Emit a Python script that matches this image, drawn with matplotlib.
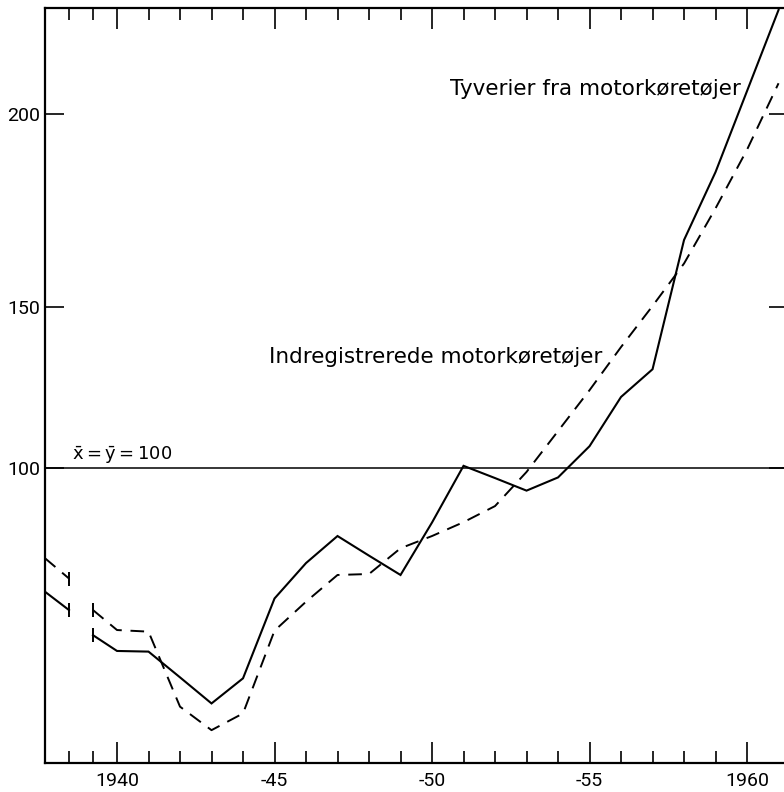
import matplotlib
matplotlib.use("Agg")
import matplotlib.pyplot as plt
import numpy as np

plt.rcParams['font.family'] = ['Roboto', 'DejaVu Sans']
plt.rcParams['mathtext.fontset'] = 'dejavusans'

# ---- data (index, mean = 100) ----
years = list(range(1937, 1962))
theft = [61.6, 55.9, 48.1, 43.2, 43.0, 35.0, 26.9, 34.7, 59.5, 70.5,
         78.9, 72.8, 66.8, 83.1, 100.7, 96.9, 93.0, 97.1, 106.8, 122.1,
         130.7, 167.4, 185.0, 206.0, 227.0]
registered = [72.0, 65.7, 55.9, 49.7, 49.2, 25.9, 18.6, 23.8, 49.5, 58.5,
              66.8, 67.1, 75.1, 78.9, 83.2, 88.2, 98.8, 111.5, 124.2, 137.6,
              150.3, 161.3, 175.6, 190.8, 208.0]
gap_after = 1938          # series interrupted between 1938 and 1939
major_years = [1940, 1945, 1950, 1955, 1960]
major_labels = ['1940', '-45', '-50', '-55', '1960']
y_ticks = [100, 150, 200]
y_labels = ['100', '150', '200']
label_theft = 'Tyverier fra motorkøretøjer'
label_reg = 'Indregistrerede motorkøretøjer'
label_mean = r'$\mathrm{\bar{x} = \bar{y} = 100}$'

# ---- scales (pre-1940 compressed, y piecewise as printed) ----
def xf(x):
    x = np.asarray(x, float)
    return np.where(x < 1940, (x - 1940) * 24 / 31.5, x - 1940)

def xi(p):
    p = np.asarray(p, float)
    return np.where(p < 0, p * 31.5 / 24 + 1940, p + 1940)

def yf(v):
    v = np.asarray(v, float)
    return np.where(v <= 150, (v - 100) * 161 / 50, 161 + (v - 150) * 193 / 50)

def yi(p):
    p = np.asarray(p, float)
    return np.where(p <= 161, 100 + p * 50 / 161, 150 + (p - 161) * 50 / 193)

fig = plt.figure(figsize=(7.84, 7.92), dpi=100)
ax = fig.add_axes([45 / 784, 29 / 792, 743 / 784, 755 / 792])
ax.set_xscale('function', functions=(xf, xi))
ax.set_yscale('function', functions=(yf, yi))

yrs = np.array(years)
th = np.array(theft)
rg = np.array(registered)
pre = yrs <= gap_after
post = yrs > gap_after

solid_kw = dict(color='black', lw=1.5, solid_joinstyle='miter')
dash_kw = dict(color='black', lw=1.4, linestyle=(0, (7, 4.5)))
for m in (pre, post):
    ax.plot(yrs[m], th[m], **solid_kw)
    ax.plot(yrs[m], rg[m], **dash_kw)

# break markers at the ends of the interruption
brk = (yrs == gap_after) | (yrs == gap_after + 1)
ax.plot(yrs[brk], th[brk], linestyle='none', marker='|', ms=10, mew=1.4, color='black')
ax.plot(yrs[brk], rg[brk], linestyle='none', marker='|', ms=10, mew=1.4, color='black')

ax.axhline(100, color='black', lw=1.1)

ax.set_xlim(1937, 1961.3)
ax.set_ylim(8.4, 227.5)

ax.set_xticks(major_years)
ax.set_xticklabels(major_labels)
ax.set_xticks([y for y in range(1938, 1961) if y not in major_years], minor=True)
ax.set_yticks(y_ticks)
ax.set_yticklabels(y_labels)
ax.yaxis.set_minor_locator(matplotlib.ticker.NullLocator())

ax.tick_params(axis='x', which='major', direction='in', length=15, width=1.2,
               top=True, bottom=True, labelsize=14, pad=6.5)
ax.tick_params(axis='x', which='minor', direction='in', length=8.5, width=1.2,
               top=True, bottom=True)
ax.tick_params(axis='y', which='major', direction='in', length=14, width=1.2,
               left=True, right=True, labelsize=14, pad=3.6)

for s in ax.spines.values():
    s.set_linewidth(1.6)

ann_font = ['DejaVu Sans']
ax.text(0.545, 0.8848, label_theft, transform=ax.transAxes, fontsize=15.5,
        family=ann_font, ha='left', va='baseline')
ax.text(0.3015, 0.5298, label_reg, transform=ax.transAxes, fontsize=15.5,
        family=ann_font, ha='left', va='baseline')
ax.text(0.0363, 0.4013, label_mean, transform=ax.transAxes, fontsize=13,
        ha='left', va='baseline')

fig.savefig('out.png', dpi=100)
